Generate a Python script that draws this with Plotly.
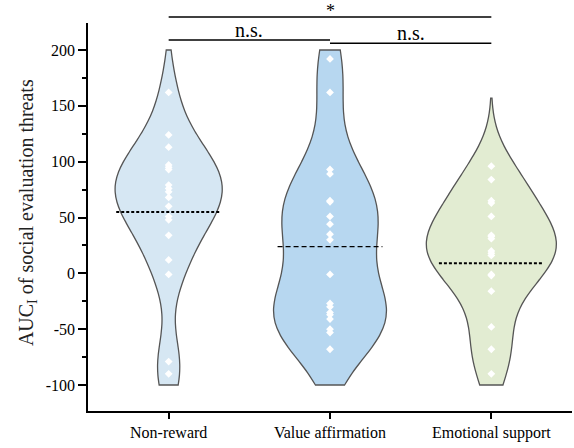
import plotly.graph_objects as go

# ---- data ----
categories = ["Non-reward", "Value affirmation", "Emotional support"]
non_reward = [162, 124, 113, 97, 95, 93, 79, 76, 73, 68, 60, 51, 48, 34, 12, -1, -79, -90]
value_affirmation = [192, 162, 93, 89, 65, 64, 51, 44, 35, 30, -1, -27, -30, -35, -37, -41, -50, -53, -68]
emotional_support = [96, 84, 65, 63, 51, 34, 33, 31, 20, 18, 16, -1, -2, -16, -48, -68, -90]
group_values = [non_reward, value_affirmation, emotional_support]
mean_values = [55, 24, 9]          # dashed lines
span_bottom = [-100, -100, -100]   # violin extents
span_top = [200, 200, 157]
y_tick_vals = [-100, -50, 0, 50, 100, 150, 200]
y_tick_text = ["-100", "-50", "0", "50", "100", "150", "200"]
sig_pairs = [(0, 1, "n.s."), (1, 2, "n.s."), (0, 2, "*")]

# ---- styles ----
fills = ["#d6e7f3", "#b7d7f0", "#e2ecd2"]
bandwidths = [28, 34, 26]
violin_widths = [0.663, 0.70, 0.805]
mean_dash = ["3px,2px", "5px,3px", "3px,2px"]
mean_width = [2, 1.2, 2]
FONT = "Liberation Serif, Times New Roman, serif"
X_MIN, X_MAX = -0.5, 2.5

fig = go.Figure()
for i, (vals, cat) in enumerate(zip(group_values, categories)):
    fig.add_trace(go.Violin(
        x=[i] * len(vals), y=vals, name=cat,
        width=violin_widths[i], scalegroup="g%d" % i, scalemode="width",
        spanmode="manual", span=[span_bottom[i], span_top[i]],
        bandwidth=bandwidths[i],
        points="all", pointpos=0, jitter=0,
        marker=dict(symbol="diamond", color="white", size=6, line=dict(width=0)),
        line=dict(color="#555555", width=1.3),
        fillcolor=fills[i], opacity=1,
        box_visible=False, meanline_visible=False,
        showlegend=False, hoverinfo="y",
    ))
    fig.add_trace(go.Scatter(
        x=[i - 0.325, i + 0.325], y=[mean_values[i]] * 2, mode="lines",
        line=dict(color="black", width=mean_width[i], dash=mean_dash[i]),
        showlegend=False, hoverinfo="skip",
    ))

# significance brackets (paper coordinates derived from category positions)
def xpaper(i):
    return (i - X_MIN) / (X_MAX - X_MIN)

bracket_y = {(0, 1): 0.956, (1, 2): 0.948, (0, 2): 1.0155}
text_y = {(0, 1): 0.982, (1, 2): 0.974, (0, 2): 1.032}
shapes = []
annotations = []
for a, b, lab in sig_pairs:
    yb = bracket_y[(a, b)]
    shapes.append(dict(type="line", xref="paper", yref="paper",
                       x0=xpaper(a), x1=xpaper(b), y0=yb, y1=yb,
                       line=dict(color="black", width=1.6)))
    annotations.append(dict(xref="paper", yref="paper", x=(xpaper(a) + xpaper(b)) / 2,
                            y=text_y[(a, b)], text=lab, showarrow=False,
                            xanchor="center", yanchor="middle",
                            font=dict(family=FONT, size=20 if lab != "*" else 18, color="black")))

annotations.append(dict(xref="paper", yref="paper", x=0, y=0.51, xshift=-61,
                        text="AUC<sub>I</sub> of social evaluation threats",
                        textangle=-90, showarrow=False, xanchor="center", yanchor="middle",
                        font=dict(family=FONT, size=20, color="#222222")))

fig.update_layout(
    width=574, height=448,
    margin=dict(l=88, r=2, t=23, b=37),
    plot_bgcolor="white", paper_bgcolor="white",
    shapes=shapes, annotations=annotations,
    font=dict(family=FONT, size=16, color="black"),
    xaxis=dict(range=[X_MIN, X_MAX], tickvals=[0, 1, 2], ticktext=categories,
               showgrid=False, zeroline=False, showline=True, linecolor="black", linewidth=1.5,
               ticks="outside", ticklen=6, tickwidth=1.5, tickcolor="black",
               tickfont=dict(family=FONT, size=16, color="black")),
    yaxis=dict(range=[-123.3, 224.2], tickvals=y_tick_vals, ticktext=y_tick_text,
               showgrid=False, zeroline=False, showline=True, linecolor="black", linewidth=1.5,
               ticks="outside", ticklen=8, tickwidth=1.5, tickcolor="black",
               minor=dict(dtick=25, tick0=0, ticks="outside", ticklen=4, tickwidth=1.5, tickcolor="black"),
               tickfont=dict(family=FONT, size=16, color="black")),
)

fig.write_html("out.html")
